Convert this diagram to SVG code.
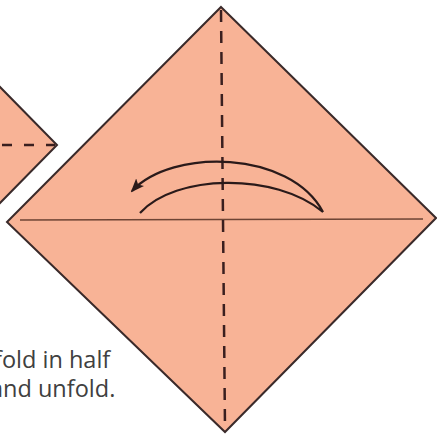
<svg xmlns="http://www.w3.org/2000/svg" width="437" height="434" viewBox="0 0 437 434">
<style>
.paper{fill:#F8B396;stroke:#3a2a2a;stroke-width:2;stroke-linejoin:miter}
.fold{stroke:#3a1f1f;stroke-width:2.5;fill:none}
.crease{stroke:#6e4434;stroke-width:1.3;fill:none}
.arrow{stroke:#2a1a1a;stroke-width:2.2;fill:none}
.label{font-family:"Open Sans","DejaVu Sans",sans-serif;font-size:23.5px;fill:#404040}
</style>
<defs>
<marker id="head" viewBox="0 0 14 11" refX="12" refY="5.5" markerWidth="14" markerHeight="11" markerUnits="userSpaceOnUse" orient="auto">
<path d="M0,0 L14,5.5 L0,11 L3,5.5 Z" fill="#2a1a1a"/>
</marker>
</defs>
<rect width="437" height="434" fill="#ffffff"/>
<g id="prev-square">
<polygon class="paper" points="-60,145 0,87 57,145 0,203"/>
<line class="fold" x1="0" y1="145" x2="55" y2="145" stroke-dasharray="10,12" stroke-dashoffset="-2"/>
</g>
<g id="square">
<polygon class="paper" points="221,7 436,218 225,432 7,222"/>
<line class="crease" x1="20" y1="220" x2="423" y2="219"/>
<line class="fold" x1="221" y1="10" x2="225" y2="428" stroke-dasharray="12,9"/>
</g>
<g id="connectors">
<path class="arrow" d="M140,213 C175,174 275,172 323,212 C290,150 172,148 132,191" marker-end="url(#head)"/>
</g>
<g id="caption">
<text class="label" x="-6" y="368">fold in half</text>
<text class="label" x="-10" y="397">and unfold.</text>
</g>
</svg>
